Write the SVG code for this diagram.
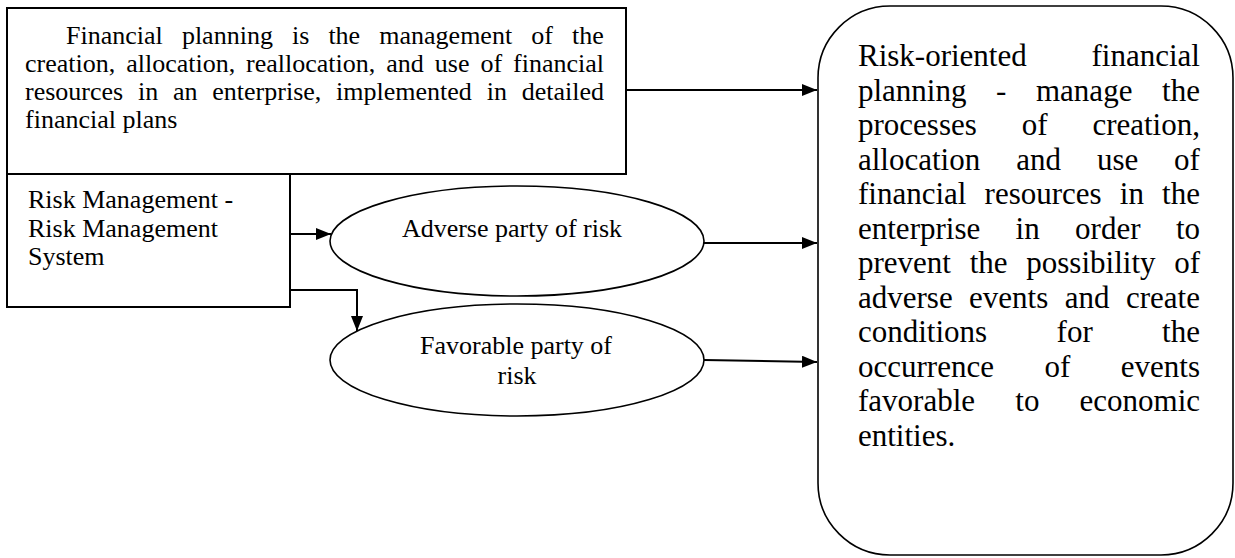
<svg xmlns="http://www.w3.org/2000/svg" width="1235" height="558" viewBox="0 0 1235 558">
<style>
.box{fill:#fff;stroke:#000;stroke-width:2}
.ell{fill:#fff;stroke:#000;stroke-width:1.6}
.rbox{fill:#fff;stroke:#000;stroke-width:1.6}
.t{font-family:"Liberation Serif","Times New Roman",serif;font-size:26px;fill:#000}
.tr{font-family:"Liberation Serif","Times New Roman",serif;font-size:31px;fill:#000}
.c{text-anchor:middle}
.ln{fill:none;stroke:#000;stroke-width:2}
</style>
<defs>
<marker id="ah" markerUnits="userSpaceOnUse" markerWidth="15" markerHeight="12" refX="15" refY="6" orient="auto">
<path d="M0,0 L15,6 L0,12 z" fill="#000"/>
</marker>
</defs>
<rect width="1235" height="558" fill="#fff"/>
<g id="node-financial-planning">
<rect class="box" x="7" y="8" width="619" height="166"/>
<text class="t">
<tspan x="66" y="44">Financial</tspan><tspan x="181.9" y="44">planning</tspan><tspan x="292" y="44">is</tspan><tspan x="328.4" y="44">the</tspan><tspan x="379.3" y="44">management</tspan><tspan x="531.3" y="44">of</tspan><tspan x="572.1" y="44">the</tspan>
<tspan x="25" y="72">creation,</tspan><tspan x="126.2" y="72">allocation,</tspan><tspan x="246.1" y="72">reallocation,</tspan><tspan x="386.3" y="72">and</tspan><tspan x="434.8" y="72">use</tspan><tspan x="480.4" y="72">of</tspan><tspan x="513.1" y="72">financial</tspan>
<tspan x="25" y="100">resources</tspan><tspan x="138" y="100">in</tspan><tspan x="173" y="100">an</tspan><tspan x="212.3" y="100">enterprise,</tspan><tspan x="336.1" y="100">implemented</tspan><tspan x="486.7" y="100">in</tspan><tspan x="521.7" y="100">detailed</tspan>
<tspan x="25" y="127.5">financial plans</tspan>
</text>
</g>
<g id="node-risk-management">
<rect class="box" x="7" y="174" width="283" height="133"/>
<text class="t"><tspan x="28" y="208">Risk Management -</tspan><tspan x="28" y="237">Risk Management</tspan><tspan x="28" y="265">System</tspan></text>
</g>
<g id="node-adverse">
<ellipse class="ell" cx="517" cy="241" rx="187" ry="55"/>
<text class="t c" x="512" y="237">Adverse party of risk</text>
</g>
<g id="node-favorable">
<ellipse class="ell" cx="517" cy="360" rx="187" ry="56"/>
<text class="t c"><tspan x="516" y="354">Favorable party of</tspan><tspan x="517" y="384">risk</tspan></text>
</g>
<g id="node-risk-oriented">
<rect class="rbox" x="818" y="6" width="415" height="549" rx="72" ry="72"/>
<text class="tr">
<tspan x="858" y="66">Risk-oriented</tspan><tspan x="1091.5" y="66">financial</tspan>
<tspan x="858" y="100.5">planning</tspan><tspan x="996.1" y="100.5">-</tspan><tspan x="1036" y="100.5">manage</tspan><tspan x="1162.1" y="100.5">the</tspan>
<tspan x="858" y="135">processes</tspan><tspan x="1021.7" y="135">of</tspan><tspan x="1092.4" y="135">creation,</tspan>
<tspan x="858" y="169.5">allocation</tspan><tspan x="1016.2" y="169.5">and</tspan><tspan x="1096.9" y="169.5">use</tspan><tspan x="1174.1" y="169.5">of</tspan>
<tspan x="858" y="204">financial</tspan><tspan x="984.6" y="204">resources</tspan><tspan x="1119.8" y="204">in</tspan><tspan x="1162.1" y="204">the</tspan>
<tspan x="858" y="238.5">enterprise</tspan><tspan x="1015.6" y="238.5">in</tspan><tspan x="1075.1" y="238.5">order</tspan><tspan x="1175.9" y="238.5">to</tspan>
<tspan x="858" y="273">prevent</tspan><tspan x="969.7" y="273">the</tspan><tspan x="1026.3" y="273">possibility</tspan><tspan x="1174.2" y="273">of</tspan>
<tspan x="858" y="307.5">adverse</tspan><tspan x="969.1" y="307.5">events</tspan><tspan x="1064.7" y="307.5">and</tspan><tspan x="1126" y="307.5">create</tspan>
<tspan x="858" y="342">conditions</tspan><tspan x="1056.6" y="342">for</tspan><tspan x="1162.1" y="342">the</tspan>
<tspan x="858" y="376.5">occurrence</tspan><tspan x="1044.5" y="376.5">of</tspan><tspan x="1120.8" y="376.5">events</tspan>
<tspan x="858" y="411">favorable</tspan><tspan x="1015.3" y="411">to</tspan><tspan x="1079.5" y="411">economic</tspan>
<tspan x="858" y="445.5">entities.</tspan>
</text>
</g>
<g id="connectors">
<path class="ln" d="M626,90 L817,90" marker-end="url(#ah)"/>
<path class="ln" d="M290,234 L331,234" marker-end="url(#ah)"/>
<path class="ln" d="M290,290 L357,290 L357,331" marker-end="url(#ah)"/>
<path class="ln" d="M704,243 L817,243" marker-end="url(#ah)"/>
<path class="ln" d="M704,360 L817,362" marker-end="url(#ah)"/>
</g>
</svg>
